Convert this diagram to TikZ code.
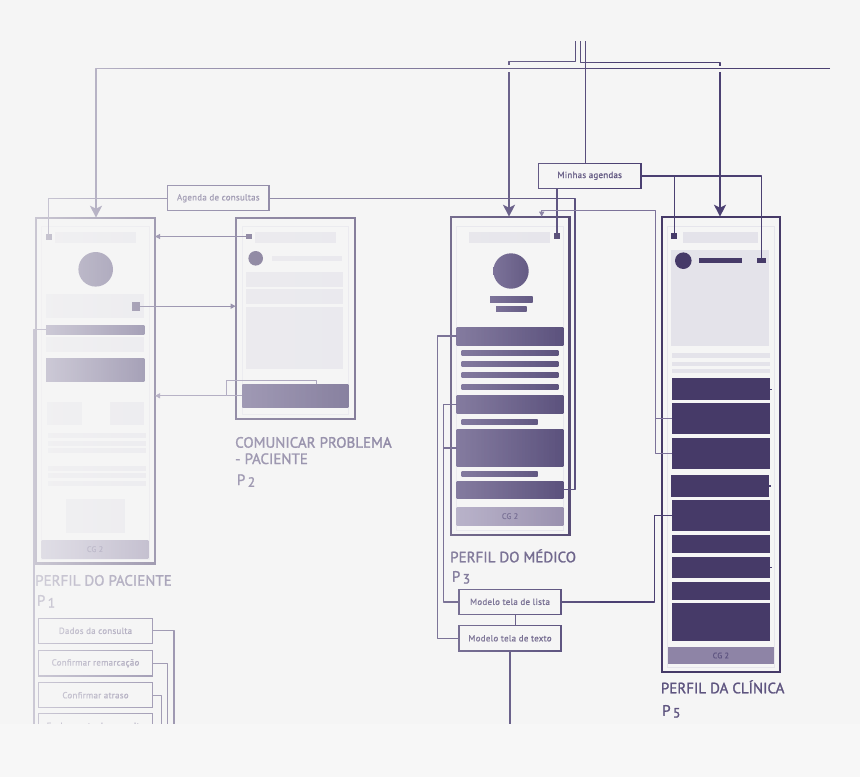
\documentclass[tikz,border=0pt]{standalone}
\usepackage{fontspec}
\setmainfont{PT Sans}
\newfontfamily\lblfont{PT Sans}[FakeBold=1.4]
\newfontfamily\smfont{PT Sans}[FakeBold=0.8,LetterSpace=3]
\usetikzlibrary{arrows.meta,fadings}
\definecolor{bg}{HTML}{F5F5F5}
\definecolor{bgb}{HTML}{F7F7F7}
\definecolor{dk}{HTML}{463A68}
\definecolor{ln}{HTML}{4B4072}
\definecolor{lnl}{HTML}{7C7299}
\definecolor{lg}{HTML}{E4E3EA}
\definecolor{scr}{HTML}{E6E5EC}
\definecolor{cg}{HTML}{8E84A6}
\definecolor{cgl}{HTML}{A39BBA}
\definecolor{cgt}{HTML}{5F5582}
\definecolor{txt}{HTML}{5E547F}
\definecolor{bl}{HTML}{5B4F80}
\definecolor{br}{HTML}{483D6E}
\pgfdeclarehorizontalshading{ovshade}{100bp}{color(0bp)=(pgftransparent!14); color(27bp)=(pgftransparent!22); color(39bp)=(pgftransparent!50); color(60bp)=(pgftransparent!68); color(75bp)=(pgftransparent!94); color(100bp)=(pgftransparent!100)}
\pgfdeclarefading{ovfade}{\pgfuseshading{ovshade}}
\newcommand\bx[6]{\node[#6,minimum width={(#4)-(#2)},minimum height={(#5)-(#3)}] (#1) at ({((#2)+(#4))/2},{((#3)+(#5))/2}) {};}
\newcommand\pdig[1]{\raisebox{-1.8pt}{\fontsize{13.5}{15}\selectfont #1}}
\tikzset{
  base/.style={inner sep=0pt,outer sep=0pt,rectangle},
  frame/.style={base,draw=dk,line width=2.4pt},
  frametwo/.style={base,draw=dk,line width=2.2pt},
  screen/.style={base,draw=scr,line width=0.8pt},
  light/.style={base,fill=lg},
  dark/.style={base,fill=dk},
  grad/.style={base,left color=bl,right color=br},
  cgbar/.style={base,left color=cgl,right color=cg},
  conn/.style={draw=ln,line width=1.4pt,line join=round},
  thinc/.style={draw=ln,line width=1.1pt,line join=round},
  thinl/.style={draw=lnl,line width=1pt,line join=round},
  bigarrow/.style={conn,-{Stealth[length=12pt,width=12pt,inset=3pt]}},
  smallarrow/.style={thinc,-{Triangle[length=5pt,width=5pt]}},
  smallarrowl/.style={thinl,-{Triangle[length=5pt,width=5pt]}},
  lbl/.style={anchor=base west,inner sep=0pt,text=txt,font=\lblfont\fontsize{15}{18}\selectfont},
  tbox/.style={base,draw=ln,line width=1.2pt,fill=bg,text=txt,font=\smfont\fontsize{8.9}{10}\selectfont},
  cgtxt/.style={inner sep=0pt,text=cgt,font=\smfont\fontsize{8}{10}\selectfont},
}
\begin{document}
\begin{tikzpicture}[x=1pt,y=-1pt]
\useasboundingbox (0,0) rectangle (860,777);
\fill[bg] (0,0) rectangle (860,777);

% ---------- P1 : Perfil do paciente ----------
\bx{p1}{36}{217.7}{155}{563.3}{frame}
\bx{p1s}{41.7}{226.7}{149.3}{559.5}{screen}
\bx{p1sq}{45.7}{234}{52.3}{240}{dark}
\bx{p1srch}{55}{232.3}{136}{243.3}{light}
\node[base,circle,fill=br,minimum size=34.6pt] (p1av) at (95.7,269.3) {};
\bx{p1r1}{46}{294.3}{144.3}{317.7}{light}
\bx{p1sq2}{131.7}{301.7}{140}{310.7}{dark}
\bx{p1bar1}{46}{325}{144.3}{334.3}{grad}
\bx{p1r2}{46}{336.7}{144.3}{352}{light}
\bx{p1bar2}{46}{358.3}{144.3}{381}{grad}
\bx{p1c1}{47.3}{401.7}{81.7}{425}{light}
\bx{p1c2}{110}{401.7}{144}{425}{light}
\bx{p1l1}{48.3}{433.3}{145.7}{438.3}{light}
\bx{p1l2}{48.3}{441}{145.7}{446}{light}
\bx{p1l3}{48.3}{448.3}{145.7}{453.3}{light}
\bx{p1l4}{48.3}{465.7}{145.7}{470.7}{light}
\bx{p1l5}{48.3}{473.3}{145.7}{478.3}{light}
\bx{p1l6}{48.3}{480.7}{145.7}{485.7}{light}
\bx{p1r3}{66}{499}{125}{532.7}{light}
\bx{p1cg}{41.7}{540}{148.3}{558.3}{cgbar}
\node[cgtxt] (p1cgt) at (p1cg) {CG 2};
\node[lbl] (lp1) at (35,585.7) {PERFIL DO PACIENTE};
\node[lbl] (lp1n) at (36.7,605.7) {P\,\pdig{1}};

% ---------- P2 : Comunicar problema ----------
\bx{p2}{235.7}{217.7}{355}{419}{frametwo}
\bx{p2s}{242.3}{226.7}{348.3}{414.5}{screen}
\bx{p2sq}{246}{233.7}{252.3}{239.3}{dark}
\bx{p2srch}{255}{231.7}{336}{243.3}{light}
\node[base,circle,fill=dk,minimum size=14.6pt] (p2av) at (255.7,258.3) {};
\bx{p2ln}{271.7}{256}{341.7}{260.7}{light}
\bx{p2r1}{245.7}{272.3}{343.3}{286.7}{light}
\bx{p2r2}{245.7}{289.3}{343.3}{304}{light}
\bx{p2r3}{245.7}{306.7}{343.3}{369}{light}
\bx{p2btn}{242.3}{384.3}{348.3}{407.3}{grad}
\node[lbl] (lp2a) at (235,447.7) {COMUNICAR PROBLEMA};
\node[lbl] (lp2b) at (235,464) {- PACIENTE};
\node[lbl] (lp2n) at (236.7,485) {P\,\pdig{2}};

% ---------- P3 : Perfil do medico ----------
\bx{p3}{450.7}{216.7}{569.5}{535}{frame}
\bx{p3s}{456.7}{226.7}{563.3}{530.5}{screen}
\bx{p3srch}{469.3}{231.7}{550}{243.3}{light}
\bx{p3sq}{553.7}{233.3}{560.3}{239}{dark}
\node[base,circle,left color=bl,right color=br,minimum size=35.4pt] (p3av) at (511,271) {};
\bx{p3n1}{490}{296.7}{532.7}{302}{grad}
\bx{p3n2}{496}{306}{526.7}{311}{grad}
\bx{p3b1}{456.7}{327.3}{563.3}{345}{grad}
\bx{p3l1}{461.7}{350.7}{558.3}{355.3}{grad}
\bx{p3l2}{461.7}{361.7}{558.3}{366.3}{grad}
\bx{p3l3}{461.7}{372.7}{558.3}{377.3}{grad}
\bx{p3l4}{461.7}{384}{558.3}{389}{grad}
\bx{p3b2}{456.7}{395.7}{563.3}{413.3}{grad}
\bx{p3l5}{461.7}{419}{537.7}{424}{grad}
\bx{p3b3}{456.7}{429.3}{563.3}{466.7}{grad}
\bx{p3l6}{461.7}{471.7}{537.7}{476.7}{grad}
\bx{p3b4}{456.7}{481}{563.3}{498.3}{grad}
\bx{p3cg}{456.7}{507.3}{563.3}{525}{cgbar}
\node[cgtxt] (p3cgt) at (p3cg) {CG 2};
\node[lbl] (lp3) at (450,562.3) {PERFIL DO MÉDICO};
\node[lbl] (lp3n) at (451.7,581.7) {P\,\pdig{3}};

% ---------- P5 : Perfil da clinica ----------
\bx{p5}{661.7}{216.7}{780}{671.7}{frame}
\bx{p5s}{667.3}{226.7}{774.3}{667.3}{screen}
\bx{p5sq1}{671}{233.3}{677.3}{239}{dark}
\bx{p5srch}{683.3}{231.7}{758.3}{243.3}{light}
\bx{p5card}{671}{250}{769}{346}{light}
\node[base,circle,fill=dk,minimum size=16.6pt] (p5av) at (683.3,260.7) {};
\bx{p5nm}{699.3}{258.3}{742}{263.3}{dark}
\bx{p5sq2}{756.7}{257.7}{766}{263.3}{dark}
\bx{p5l1}{671.7}{353.3}{770}{358.3}{light}
\bx{p5l2}{671.7}{361.7}{770}{366}{light}
\bx{p5l3}{671.7}{369.3}{770}{373.3}{light}
\bx{p5b1}{671.7}{378.3}{770}{400}{dark}
\bx{p5b2}{671.7}{403.3}{770}{434.3}{dark}
\bx{p5b3}{671.7}{437.7}{770}{468.7}{dark}
\bx{p5b4}{670.7}{475.3}{769}{496.7}{dark}
\bx{p5b5}{671.7}{500}{770}{531}{dark}
\bx{p5b6}{671.7}{535}{770}{552.7}{dark}
\bx{p5b7}{671.7}{557.3}{770}{578.3}{dark}
\bx{p5b8}{671.7}{582.3}{770}{600}{dark}
\bx{p5b9}{671.7}{602.7}{770}{641}{dark}
\bx{p5cg}{667.7}{646.7}{774}{664.3}{base,fill=cg}
\node[cgtxt] (p5cgt) at (p5cg) {CG 2};
\node[lbl] (lp5) at (660.7,693.3) {PERFIL DA CLÍNICA};
\node[lbl] (lp5n) at (662,715.7) {P\,\pdig{5}};
\draw[thinc] (p5b1.east) -- ++(1.8,0);
\draw[thinc] (p5b4.east) -- ++(1.8,0);
\draw[thinc] (p5b7.east) -- ++(1.8,0);

% ---------- label boxes ----------
\node[tbox,minimum width=101.5pt,minimum height=25pt] (agenda) at (218.3,198.2) {Agenda de consultas};
\node[tbox,minimum width=102.7pt,minimum height=25pt] (minhas) at (589.7,175.8) {Minhas agendas};
\node[tbox,minimum width=102pt,minimum height=25pt] (lista) at (510,601.8) {Modelo tela de lista};
\node[tbox,minimum width=102pt,minimum height=25.3pt] (texto) at (510,638.3) {Modelo tela de texto};
\node[tbox,minimum width=114.4pt,minimum height=25pt] (dados) at (95.5,630.8) {Dados da consulta};
\node[tbox,minimum width=114.4pt,minimum height=25.3pt] (remarc) at (95.5,663.3) {Confirmar remarcação};
\node[tbox,minimum width=114.4pt,minimum height=25pt] (atraso) at (95.5,695.2) {Confirmar atraso};
\node[tbox,minimum width=114.4pt,minimum height=25pt] (fecha) at (95.5,725.8) {Fechamento da consulta};

% ---------- connectors ----------
\coordinate (t1) at (575.7,41); \coordinate (t2) at (580.7,41); \coordinate (t3) at (585.7,41);
\draw[conn] (t1) -- (575.7,61.7) -- (509,61.7) -- (509,65);
\draw[conn] (t2) -- (580.7,62.3) -- (720,62.3) -- (720,65.5);
\coordinate (a1) at (509,72); \coordinate (a2) at (720,72);
\draw[bigarrow] (a1) -- (a1 |- p3.north);
\draw[bigarrow] (a2) -- (a2 |- p5.north);
\draw[conn] (t3) -- (t3 |- minhas.north);
\coordinate (h0) at (830,68.7); \coordinate (h1) at (96,68.7);
\draw[bigarrow] (h0) -- (h1) -- (h1 |- p1.north);

\coordinate (m1) at (674.3,0); \coordinate (m2) at (761.3,0); \coordinate (m3) at (557,0);
\draw[conn] (minhas.east) -- (minhas.east -| m2) -- (m2 |- p5sq2.north);
\draw[conn] (minhas.east -| m1) -- (m1 |- p5sq1.north);
\draw[conn] (m3 |- minhas.south) -- (m3 |- p3sq.north);

\coordinate (g1) at (575,0); \coordinate (g2) at (48.7,0);
\draw[conn] (agenda.east) -- (agenda.east -| g1) -- (g1 |- p3b4.east) -- (p3b4.east);
\draw[thinc] (agenda.west) -- (agenda.west -| g2) -- (g2 |- p1sq.north);

\coordinate (s1) at (655,210); \coordinate (s2) at (541.7,210);
\draw[smallarrowl] (p5b3.west) -- (p5b3.west -| s1) -- (s1) -- (s2) -- (s2 |- p3.north);
\draw[thinl] (p5b2.west) -- (p5b2.west -| s1);

\coordinate (q1) at (437.3,0); \coordinate (q2) at (443.3,0); \coordinate (q3) at (654.3,0);
\draw[conn] (p3b1.west) -- (p3b1.west -| q1) -- (q1 |- texto.west) -- (texto.west);
\draw[conn] (p3b2.west) -- (p3b2.west -| q2) -- (q2 |- lista.west) -- (lista.west);
\draw[conn] (p3b3.west) -- (p3b3.west -| q2);
\draw[conn] (lista.east) -- (lista.east -| q3) -- (q3 |- p5b5.west) -- (p5b5.west);
\draw[conn] ([xshift=5.7pt]lista.south) -- ([xshift=5.7pt]texto.north);
\coordinate (bot) at (0,735);
\draw[conn] (texto.south) -- (texto.south |- bot);

\draw[smallarrow] (p2sq.west) -- (p2sq.west -| p1.east);
\draw[smallarrow] (p1sq2.east) -- (p1sq2.east -| p2.west);
\coordinate (u1) at (316.7,380.7); \coordinate (u2) at (226.7,380.7);
\draw[smallarrowl] (u1 |- p2btn.north) -- (u1) -- (u2) -- (u2 |- p2btn.west) -- (p2btn.west -| p1.east);
\draw[thinl] (p2btn.west) -- (p2btn.west -| u2);

\coordinate (v0) at (34,0);
\draw[thinc] (p1bar1.west) -- (p1bar1.west -| v0) -- (v0 |- bot);
\coordinate (w1) at (174,0); \coordinate (w2) at (167.7,0); \coordinate (w3) at (161.7,0); \coordinate (w4) at (157,0);
\draw[thinc] (dados.east) -- (dados.east -| w1) -- (w1 |- bot);
\draw[thinc] (remarc.east) -- (remarc.east -| w2) -- (w2 |- bot);
\draw[thinc] (atraso.east) -- (atraso.east -| w3) -- (w3 |- bot);
\draw[thinc] ([yshift=-4pt]fecha.east) -- ([yshift=-4pt]fecha.east -| w4) -- (w4 |- bot);

% ---------- fade overlay and bottom band ----------
\fill[bg,path fading=ovfade] (0,0) rectangle (600,724);
\fill[bgb] (0,724) rectangle (860,777);
\end{tikzpicture}
\end{document}
